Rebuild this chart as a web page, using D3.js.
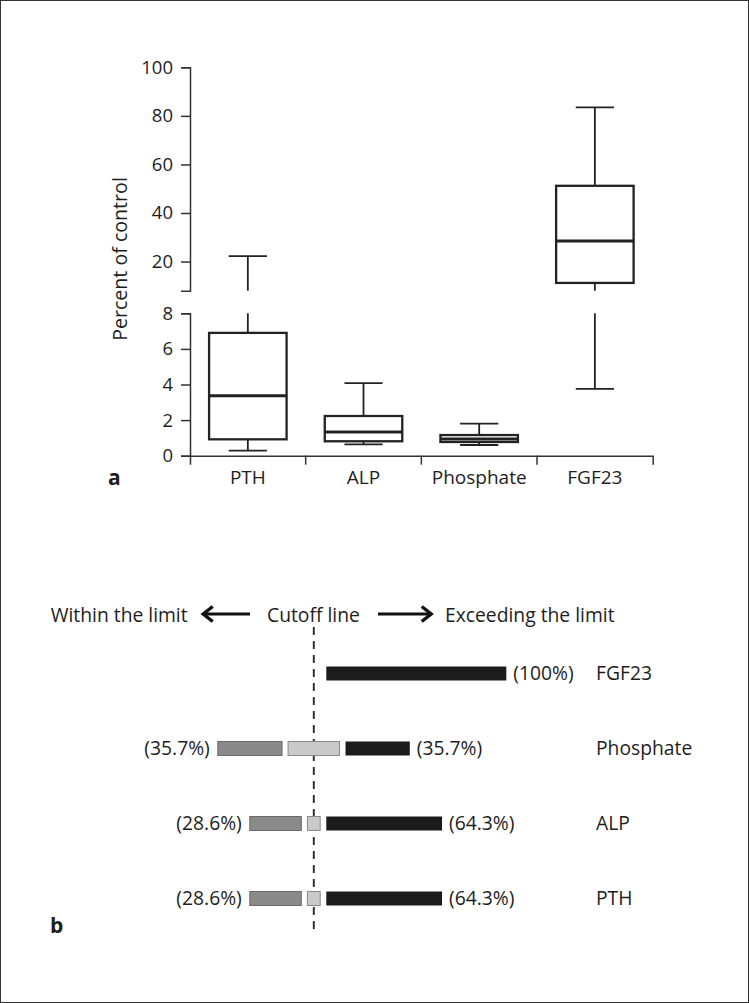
<!DOCTYPE html>
<html>
<head>
<meta charset="utf-8">
<script src="https://cdn.jsdelivr.net/npm/d3@7"></script>
<style>
  body { margin: 0; background: #fff; }
  text { font-family: "Open Sans", sans-serif; fill: #1e1e1e; }
  .axis .domain, .axis line { stroke: #333; stroke-width: 1.5; }
</style>
</head>
<body>
<svg id="chart"></svg>
<script>
// panel a: box plot values (percent of control)
const categories = ["PTH", "ALP", "Phosphate", "FGF23"];
const whiskerLow = [0.28, 0.64, 0.6, 3.75];
const q1 = [0.92, 0.81, 0.77, 11.2];
const median = [3.37, 1.33, 0.94, 28.5];
const q3 = [6.9, 2.23, 1.16, 51.2];
const whiskerHigh = [22.2, 4.08, 1.8, 83.5];
const lowerTicks = [0, 2, 4, 6, 8];
const upperTicks = [20, 40, 60, 80, 100];

// panel b: share of patients relative to the cutoff
const rows = ["FGF23", "Phosphate", "ALP", "PTH"];
const withinPct = [0, 35.7, 28.6, 28.6];
const cutoffPct = [0, 28.6, 7.1, 7.1];
const exceedPct = [100, 35.7, 64.3, 64.3];

const W = 749, H = 1003;
const svg = d3.select("#chart").attr("width", W).attr("height", H);

// frame round the figure
svg.append("rect")
  .attr("x", 0.5).attr("y", 0.5)
  .attr("width", W - 1).attr("height", H - 1)
  .attr("fill", "none").attr("stroke", "#333").attr("stroke-width", 1);

// ---------- panel a ----------
const x = d3.scaleBand().domain(categories).range([190, 652.7]);
const yBot = d3.scaleLinear().domain([0, 8]).range([455.7, 313.3]);
const yTop = d3.scaleLinear().domain([8, 100]).range([290.7, 67.3]);
const segments = [
  { scale: yBot, lo: 0, hi: 8 },
  { scale: yTop, lo: 8, hi: 100 }
];

svg.append("g").attr("class", "axis")
  .attr("transform", "translate(190,0)")
  .call(d3.axisLeft(yBot).tickValues(lowerTicks).tickSize(9).tickSizeOuter(9).tickPadding(8))
  .call(g => g.selectAll("text").style("font-size", "18.5px"));

svg.append("g").attr("class", "axis")
  .attr("transform", "translate(190,0)")
  .call(d3.axisLeft(yTop).tickValues(upperTicks).tickSize(9).tickSizeOuter(9).tickPadding(8))
  .call(g => g.selectAll("text").style("font-size", "18.5px"));

const xAxis = svg.append("g").attr("class", "axis")
  .attr("transform", "translate(0,455.7)")
  .call(d3.axisBottom(x).tickSize(0).tickSizeOuter(9).tickPadding(15));
xAxis.selectAll("text").style("font-size", "19px");
xAxis.selectAll(".sep")
  .data(categories.slice(1))
  .enter().append("line")
  .attr("x1", d => x(d)).attr("x2", d => x(d))
  .attr("y1", 0).attr("y2", 9);

svg.append("text")
  .attr("transform", "translate(127,259) rotate(-90)")
  .attr("text-anchor", "middle")
  .style("font-size", "19.6px")
  .text("Percent of control");

svg.append("text")
  .attr("x", 108).attr("y", 485)
  .style("font-size", "21px").style("font-weight", "bold")
  .text("a");

// vertical piece split over the two axis segments
function vSpan(g, cx, a, b, width) {
  segments.forEach(s => {
    const lo = Math.max(Math.min(a, b), s.lo);
    const hi = Math.min(Math.max(a, b), s.hi);
    if (hi > lo) {
      g.append("line")
        .attr("x1", cx).attr("x2", cx)
        .attr("y1", s.scale(lo)).attr("y2", s.scale(hi))
        .attr("stroke", "#222").attr("stroke-width", width);
    }
  });
}
function yOf(v) {
  return v <= 8 ? yBot(v) : yTop(v);
}

const boxW = x.bandwidth() * 0.67;
const capW = x.bandwidth() * 0.33;

categories.forEach((c, i) => {
  const cx = x(c) + x.bandwidth() / 2;
  const g = svg.append("g");
  vSpan(g, cx, whiskerLow[i], q1[i], 1.8);
  vSpan(g, cx, q3[i], whiskerHigh[i], 1.8);
  [whiskerLow[i], whiskerHigh[i]].forEach(v => {
    g.append("line")
      .attr("x1", cx - capW / 2).attr("x2", cx + capW / 2)
      .attr("y1", yOf(v)).attr("y2", yOf(v))
      .attr("stroke", "#222").attr("stroke-width", 1.8);
  });
  g.append("rect")
    .attr("x", cx - boxW / 2).attr("width", boxW)
    .attr("y", yOf(q3[i])).attr("height", yOf(q1[i]) - yOf(q3[i]))
    .attr("fill", "#fff").attr("stroke", "#222").attr("stroke-width", 2.3);
  g.append("line")
    .attr("x1", cx - boxW / 2).attr("x2", cx + boxW / 2)
    .attr("y1", yOf(median[i])).attr("y2", yOf(median[i]))
    .attr("stroke", "#222").attr("stroke-width", 3);
});

// ---------- panel b ----------
const cutX = 313.8;
const xs = d3.scaleLinear().domain([0, 100]).range([0, 180]);
const yRow = d3.scalePoint().domain(rows).range([673.5, 898.5]);
const barH = 14, gap = 6, minSlot = 13;

const head = svg.append("g").style("font-size", "19.3px");
head.append("text").attr("x", 50.7).attr("y", 621.7).text("Within the limit");
head.append("text").attr("x", 267).attr("y", 621.7).text("Cutoff line");
head.append("text").attr("x", 445).attr("y", 621.7).text("Exceeding the limit");

// arrows
const arrow = (x1, x2, y) => {
  const dir = Math.sign(x2 - x1);
  svg.append("line").attr("x1", x1).attr("x2", x2 - dir * 3).attr("y1", y).attr("y2", y)
    .attr("stroke", "#111").attr("stroke-width", 2.8);
  svg.append("path")
    .attr("d", `M${x2 - dir * 11},${y - 7.5}L${x2 - dir * 1.5},${y}L${x2 - dir * 11},${y + 7.5}`)
    .attr("fill", "none").attr("stroke", "#111").attr("stroke-width", 3.4)
    .attr("stroke-linejoin", "miter");
};
arrow(250, 201.7, 614);
arrow(378, 432.7, 614);

svg.append("line")
  .attr("x1", cutX).attr("x2", cutX).attr("y1", 627).attr("y2", 935)
  .attr("stroke", "#333").attr("stroke-width", 2)
  .attr("stroke-dasharray", "8,6");

const fmt = v => "(" + v + "%)";

rows.forEach((r, i) => {
  const cy = yRow(r);
  const midW = xs(cutoffPct[i]);
  const slot = Math.max(midW, minSlot);
  const g = svg.append("g");
  const blackX = cutX + slot / 2 + gap;
  const grayEnd = cutX - slot / 2 - gap;

  if (withinPct[i] > 0) {
    g.append("rect")
      .attr("x", grayEnd - xs(withinPct[i])).attr("width", xs(withinPct[i]))
      .attr("y", cy - barH / 2).attr("height", barH)
      .attr("fill", "#8a8a8a").attr("stroke", "#6a6a6a").attr("stroke-width", 1);
    g.append("text")
      .attr("x", grayEnd - xs(withinPct[i]) - 8).attr("y", cy).attr("dy", "0.35em")
      .attr("text-anchor", "end").style("font-size", "19.3px")
      .text(fmt(withinPct[i]));
  }
  if (midW > 0) {
    g.append("rect")
      .attr("x", cutX - midW / 2).attr("width", midW)
      .attr("y", cy - barH / 2).attr("height", barH)
      .attr("fill", "#c9c9c9").attr("stroke", "#8a8a8a").attr("stroke-width", 1);
  }
  g.append("rect")
    .attr("x", blackX).attr("width", xs(exceedPct[i]))
    .attr("y", cy - barH / 2).attr("height", barH)
    .attr("fill", "#1c1c1c");
  g.append("text")
    .attr("x", blackX + xs(exceedPct[i]) + 7).attr("y", cy).attr("dy", "0.35em")
    .style("font-size", "19.3px")
    .text(fmt(exceedPct[i]));
  g.append("text")
    .attr("x", 596).attr("y", cy).attr("dy", "0.35em")
    .style("font-size", "19.3px")
    .text(r);
});

svg.append("text")
  .attr("x", 50).attr("y", 933)
  .style("font-size", "21px").style("font-weight", "bold")
  .text("b");
</script>
</body>
</html>
